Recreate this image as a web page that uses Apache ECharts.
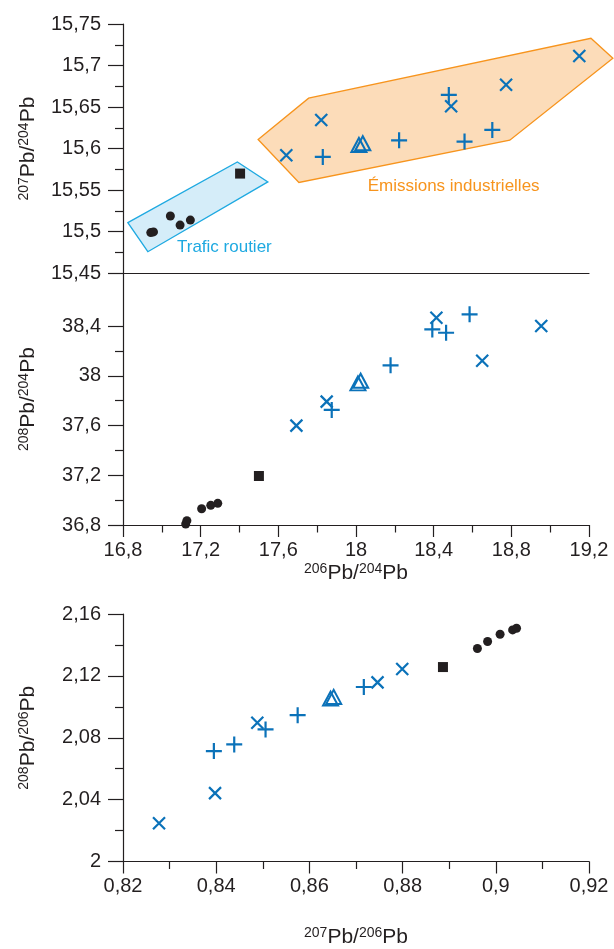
<!DOCTYPE html>
<html>
<head>
<meta charset="utf-8">
<script src="https://cdn.jsdelivr.net/npm/echarts@6/dist/echarts.min.js"></script>
<style>
html,body{margin:0;padding:0;background:#fff;}
#chart{width:614px;height:949px;}
</style>
</head>
<body>
<div id="chart"></div>
<script>
// ---------- data ----------
// top panel: 207Pb/204Pb vs 206Pb/204Pb
const topCircles  = [[16.943,15.499],[16.957,15.4998],[17.044,15.519],[17.094,15.508],[17.147,15.514]];
const topSquare   = [[17.403,15.570]];
const topCross    = [[17.641,15.592],[17.821,15.6345],[18.490,15.651],[18.773,15.677],[19.150,15.7115]];
const topPlus     = [[17.829,15.590],[18.222,15.610],[18.478,15.6646],[18.559,15.6085],[18.702,15.6225]];
const topTriangle = [[18.015,15.6044],[18.035,15.6065]];
// zones (polygon vertices, data units)
const trafficZone  = [[16.825,15.511],[17.389,15.584],[17.546,15.560],[16.928,15.476]];
const industryZone = [[17.496,15.611],[17.756,15.6608],[19.210,15.7328],[19.323,15.7087],[18.792,15.6102],[17.706,15.5593]];
const zoneNames = ['Trafic routier', 'Émissions industrielles'];

// middle panel: 208Pb/204Pb vs 206Pb/204Pb
const midCircles  = [[17.123,36.808],[17.129,36.835],[17.205,36.931],[17.252,36.958],[17.288,36.974]];
const midSquare   = [[17.500,37.194]];
const midCross    = [[17.693,37.599],[17.849,37.792],[18.414,38.467],[18.650,38.121],[18.954,38.400]];
const midPlus     = [[17.875,37.725],[18.178,38.084],[18.393,38.373],[18.464,38.346],[18.585,38.494]];
const midTriangle = [[18.010,37.939],[18.024,37.960]];

// bottom panel: 208Pb/206Pb vs 207Pb/206Pb
const botCircles  = [[0.89605,2.1377],[0.89824,2.1422],[0.90092,2.1469],[0.90361,2.1497],[0.90445,2.1508]];
const botSquare   = [[0.88866,2.1257]];
const botCross    = [[0.82773,2.0247],[0.83975,2.0442],[0.84882,2.0897],[0.87462,2.1158],[0.87992,2.1244]];
const botPlus     = [[0.83950,2.0714],[0.84387,2.0757],[0.85059,2.0854],[0.85748,2.0946],[0.87168,2.1128]];
const botTriangle = [[0.86454,2.1053],[0.86521,2.1064]];

// tick values
const topYTicks = [15.45,15.5,15.55,15.6,15.65,15.7,15.75];
const midYTicks = [36.8,37.2,37.6,38,38.4];
const midYMinor = [37,37.4,37.8,38.2];
const midXTicks = [16.8,17.2,17.6,18,18.4,18.8,19.2];
const botYTicks = [2,2.04,2.08,2.12,2.16];
const botXTicks = [0.82,0.84,0.86,0.88,0.9,0.92];

// axis titles: [superscript, 'Pb/', superscript, 'Pb']
const topYName = ['207','204'];
const midYName = ['208','204'];
const midXName = ['206','204'];
const botYName = ['208','206'];
const botXName = ['207','206'];

// ---------- styles ----------
const FONT = '"Liberation Sans", Arial, Helvetica, sans-serif';
const INK = '#231f20';
const BLUE = '#0b72b9';
const CROSS = 'path://M0,0L10,10M10,0L0,10';
const PLUS = 'path://M5,0L5,10M0,5L10,5';

const fmt = v => String(+v.toFixed(4)).replace('.', ',');
const pbName = a => '{s|' + a[0] + '}{m|Pb/}{s|' + a[1] + '}{m|Pb}';
const nameStyle = {
  rich: {
    s: {fontSize: 14, fontFamily: FONT, color: INK, verticalAlign: 'top', lineHeight: 22},
    m: {fontSize: 21, fontFamily: FONT, color: INK, lineHeight: 22}
  }
};
const axisLine = {show: true, onZero: false, lineStyle: {color: INK, width: 1.2}};
const labelStyle = (margin) => ({fontSize: 20, fontFamily: FONT, color: INK, margin: margin, formatter: fmt});

function xAxisFull(gi, min, max, interval, nm, gap) {
  return {
    type: 'value', gridIndex: gi, min: min, max: max, interval: interval,
    axisLine: axisLine,
    axisTick: {show: true, length: 12, lineStyle: {color: INK, width: 1.2}},
    minorTick: {show: true, splitNumber: 2, length: 7.5, lineStyle: {color: INK, width: 1.2}},
    axisLabel: labelStyle(15),
    splitLine: {show: false}, minorSplitLine: {show: false},
    name: pbName(nm), nameLocation: 'middle', nameGap: gap, nameTextStyle: nameStyle
  };
}
function yAxisStd(gi, min, max, interval, nm) {
  return {
    type: 'value', gridIndex: gi, min: min, max: max, interval: interval, position: 'left',
    axisLine: axisLine,
    axisTick: {show: true, length: 15, lineStyle: {color: INK, width: 1.2}},
    minorTick: {show: true, splitNumber: 2, length: 8, lineStyle: {color: INK, width: 1.2}},
    axisLabel: labelStyle(22),
    splitLine: {show: false}, minorSplitLine: {show: false},
    name: pbName(nm), nameLocation: 'middle', nameRotate: 90, nameGap: 84, nameTextStyle: nameStyle
  };
}

const MID_MAX = 38.824;

function markerSeries(xi, yi, circles, square, cross, plus, tri) {
  return [
    {type: 'scatter', xAxisIndex: xi, yAxisIndex: yi, data: circles, symbol: 'circle', symbolSize: 9,
     itemStyle: {color: INK, opacity: 1}, z: 5},
    {type: 'scatter', xAxisIndex: xi, yAxisIndex: yi, data: square, symbol: 'rect', symbolSize: 10,
     itemStyle: {color: INK, opacity: 1}, z: 5},
    {type: 'scatter', xAxisIndex: xi, yAxisIndex: yi, data: cross, symbol: CROSS, symbolSize: 12,
     itemStyle: {color: 'transparent', borderColor: BLUE, borderWidth: 2.2, opacity: 1}, z: 5},
    {type: 'scatter', xAxisIndex: xi, yAxisIndex: yi, data: plus, symbol: PLUS, symbolSize: 16,
     itemStyle: {color: 'transparent', borderColor: BLUE, borderWidth: 2.2, opacity: 1}, z: 5},
    {type: 'scatter', xAxisIndex: xi, yAxisIndex: yi, data: tri, symbol: 'triangle', symbolSize: [15, 14],
     itemStyle: {color: 'transparent', borderColor: BLUE, borderWidth: 2, opacity: 1}, z: 5}
  ];
}

function zoneSeries(zone, fill, stroke, labelText, labelAt) {
  return {
    type: 'custom', xAxisIndex: 0, yAxisIndex: 0, clip: false, silent: true, z: 1,
    data: zone,
    encode: {x: 0, y: 1},
    renderItem: function (params, api) {
      if (params.dataIndex !== 0) return null;
      const pts = zone.map(p => api.coord(p));
      const lp = api.coord(labelAt);
      return {
        type: 'group',
        children: [
          {type: 'polygon', shape: {points: pts}, style: {fill: fill, stroke: stroke, lineWidth: 1.3}},
          {type: 'text', x: lp[0], y: lp[1],
           style: {text: labelText, fill: stroke, font: '17px ' + FONT, align: 'left', verticalAlign: 'middle'}}
        ]
      };
    }
  };
}

const chart = echarts.init(document.getElementById('chart'), null, {renderer: 'canvas'});
const option = {
  backgroundColor: '#ffffff',
  animation: false,
  grid: [
    {left: 123, top: 24, width: 466, height: 249.3},
    {left: 123, top: 273.3, width: 466, height: 251.7},
    {left: 123, top: 614, width: 466, height: 249.3}
  ],
  xAxis: [
    {type: 'value', gridIndex: 0, min: midXTicks[0], max: midXTicks[midXTicks.length - 1],
     axisLine: axisLine, axisTick: {show: false}, axisLabel: {show: false}, splitLine: {show: false}},
    xAxisFull(1, midXTicks[0], midXTicks[midXTicks.length - 1], 0.4, midXName, 37),
    xAxisFull(2, botXTicks[0], botXTicks[botXTicks.length - 1], 0.02, botXName, 65)
  ],
  yAxis: [
    yAxisStd(0, topYTicks[0], topYTicks[topYTicks.length - 1], 0.05, topYName),
    {
      type: 'value', gridIndex: 1, min: midYTicks[0], max: MID_MAX, position: 'left',
      axisLine: axisLine,
      axisTick: {show: true, length: 15, customValues: midYTicks, lineStyle: {color: INK, width: 1.2}},
      axisLabel: Object.assign(labelStyle(22), {customValues: midYTicks}),
      splitLine: {show: false},
      name: pbName(midYName), nameLocation: 'middle', nameRotate: 90, nameGap: 84, nameTextStyle: nameStyle
    },
    {
      type: 'value', gridIndex: 1, min: midYTicks[0], max: MID_MAX, position: 'left', offset: 0,
      axisLine: {show: false},
      axisTick: {show: true, length: 8, customValues: midYMinor, lineStyle: {color: INK, width: 1.2}},
      axisLabel: {show: false}, splitLine: {show: false}
    },
    yAxisStd(2, botYTicks[0], botYTicks[botYTicks.length - 1], 0.04, botYName)
  ],
  series: [
    zoneSeries(trafficZone, '#d5edf9', '#1ea9e1', zoneNames[0], [17.078, 15.4816]),
    zoneSeries(industryZone, '#fcdcb9', '#f7941d', zoneNames[1], [18.060, 15.555])
  ]
    .concat(markerSeries(0, 0, topCircles, topSquare, topCross, topPlus, topTriangle))
    .concat(markerSeries(1, 1, midCircles, midSquare, midCross, midPlus, midTriangle))
    .concat(markerSeries(2, 3, botCircles, botSquare, botCross, botPlus, botTriangle))
};
chart.setOption(option);
</script>
</body>
</html>
